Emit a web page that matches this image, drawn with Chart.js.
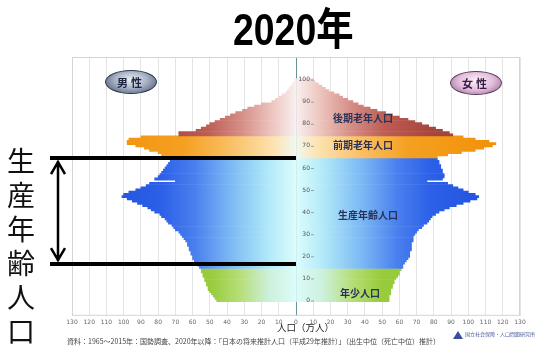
<!DOCTYPE html>
<html lang="ja">
<head>
<meta charset="UTF-8">
<meta name="viewport" content="width=device-width, initial-scale=1.0">
<title>人口ピラミッド 2020年</title>
<style>
  body { margin: 0; background: #fff; font-family: "Noto Sans CJK JP", sans-serif; }
  #stage { position: relative; width: 541px; height: 348px; overflow: hidden; }
  #pyramid { position: absolute; left: 0; top: 0; }
  .txt { position: absolute; white-space: nowrap; }
  #title { left: 233px; top: 8px; font: bold 44px/44px "Liberation Sans", "Noto Sans CJK JP", sans-serif; transform: scaleX(0.85); transform-origin: 0 0; color: #000; }
  #side-label { left: 6px; top: 143px; width: 30px; font-size: 28px; line-height: 34px; text-align: center; color: #111; white-space: normal; }
  .oval { position: absolute; width: 50px; height: 22px; border-radius: 50%; font-size: 11px; line-height: 22px; text-align: center; font-weight: bold; letter-spacing: 3px; }
  #male { left: 105px; top: 70px; background: radial-gradient(ellipse at 50% 40%, #eef0f6 0%, #a8b2c6 45%, #3c4860 100%); color: #1c2440; border: 1px solid #2c3448; }
  #female { left: 450px; top: 71px; background: radial-gradient(ellipse at 50% 40%, #fdf2fa 0%, #e2bcdc 50%, #8a5a88 100%); color: #3a1c40; border: 1px solid #5a3a5a; }
  .band { font-size: 10px; line-height: 14px; font-weight: bold; color: #2a3258; }
  #axis-name { left: 277px; top: 320px; font-size: 9.5px; line-height: 14px; color: #222; }
  #source { left: 67px; top: 336px; font-size: 7px; line-height: 10px; color: #444; }
  #logo { left: 453px; top: 329px; font-size: 5px; line-height: 10px; color: #4a5a9a; }
  #logo span { display: inline-block; width: 0; height: 0; border-left: 5px solid transparent; border-right: 5px solid transparent; border-bottom: 8px solid #3a4ea0; vertical-align: middle; margin-right: 2px; }
</style>
</head>
<body>
<div id="stage">
  <canvas id="pyramid" width="541" height="348"></canvas>
  <div class="txt" id="title">2020年</div>
  <div class="txt" id="side-label">生<br>産<br>年<br>齢<br>人<br>口</div>
  <div class="oval" id="male">男性</div>
  <div class="oval" id="female">女性</div>
  <div class="txt band" style="left:333px; top:111px;">後期老年人口</div>
  <div class="txt band" style="left:333px; top:138px;">前期老年人口</div>
  <div class="txt band" style="left:338px; top:208px;">生産年齢人口</div>
  <div class="txt band" style="left:340px; top:286px;">年少人口</div>
  <div class="txt" id="axis-name">人口（万人）</div>
  <div class="txt" id="source">資料：1965～2015年：国勢調査、2020年以降：「日本の将来推計人口（平成29年推計）」（出生中位（死亡中位）推計）</div>
  <div class="txt" id="logo"><span></span>国立社会保障・人口問題研究所</div>
</div>
<script src="https://cdn.jsdelivr.net/npm/chart.js@4.4.1/dist/chart.umd.min.js"></script>
<script>
    // 年齢（0〜100歳、100は100歳以上）
    const ages = Array.from({ length: 101 }, (_, i) => i);

    // 男性 人口（万人） 年齢0〜100
    const maleValues = [
        46, 47, 48, 49, 50, 51, 51, 52, 52, 53,
        53, 54, 54, 55, 55, 56, 57, 58, 59, 60,
        60, 61, 61, 62, 62, 63, 63, 64, 65, 66,
        67, 68, 70, 71, 72, 74, 75, 76, 78, 79,
        82, 84, 86, 89, 92, 95, 98, 101, 100, 97,
        93, 90, 87, 85, 70, 82, 80, 79, 78, 77,
        76, 75, 74, 73, 72, 77, 78, 80, 85, 88,
        93, 98, 98, 97, 90, 68, 68, 58, 55, 52,
        50, 47, 44, 41, 38, 35, 31, 28, 24, 20,
        14, 12, 10, 8, 6, 5, 4, 3, 2, 1,
        1
    ];

    // 女性 人口（万人） 年齢0〜100
    const femaleValues = [
        54, 54, 54, 55, 55, 55, 56, 56, 57, 57,
        58, 59, 60, 60, 61, 62, 62, 63, 64, 65,
        66, 66, 66, 67, 67, 67, 67, 68, 68, 68,
        69, 70, 71, 73, 74, 76, 77, 78, 79, 81,
        83, 86, 89, 93, 97, 101, 105, 106, 104, 100,
        97, 94, 91, 88, 76, 85, 86, 86, 85, 85,
        84, 84, 83, 83, 82, 82, 88, 96, 104, 109,
        114, 116, 112, 104, 97, 91, 89, 85, 81, 77,
        73, 69, 65, 60, 56, 52, 47, 43, 39, 36,
        33, 30, 27, 25, 22, 19, 17, 15, 13, 11,
        10
    ];

    // 年齢区分
    const groupNames = ["年少人口", "生産年齢人口", "前期老年人口", "後期老年人口"];
    const groupStartAge = [0, 15, 65, 75];

    // 軸
    const axisMax = 130;
    const popTickStep = 10;
    const ageTickStep = 10;
    const ageMin = -1.6;
    const ageMax = 104.9;

    // 生産年齢人口の矢印（年齢の位置）
    const bracketTopAge = 64.5;
    const bracketBottomAge = 16.5;

    // グラデーション（中心 → 外側）
    const groupColorStops = [
        [[0, "#dcfcfa"], [0.12, "#cdf0dc"], [0.25, "#b6de78"], [0.38, "#98cc3c"], [1, "#84c02a"]],
        [[0, "#dcfcfc"], [0.12, "#b2eaf8"], [0.3, "#7ab6f4"], [0.45, "#4a80ee"], [0.6, "#2c60e8"], [1, "#1c4ad8"]],
        [[0, "#f0f8f0"], [0.1, "#fde2b0"], [0.3, "#f9be62"], [0.5, "#f5a022"], [1, "#f08c00"]],
        [[0, "#f8f0f0"], [0.1, "#eec8c2"], [0.25, "#d48c84"], [0.4, "#bc5c52"], [0.6, "#a6463c"], [1, "#983a30"]]
    ];

    const gradientCache = {};
    function fillFor(ctx, side) {
        const chart = ctx.chart;
        const area = chart.chartArea;
        if (!area) return "#cccccc";
        const age = ages[ctx.dataIndex] || 0;
        let g = 0;
        for (let i = 0; i < groupStartAge.length; i++) {
            if (age >= groupStartAge[i]) g = i;
        }
        const key = side + g + "_" + area.left + "_" + area.right;
        if (!gradientCache[key]) {
            const xs = chart.scales.x;
            const x0 = xs.getPixelForValue(0);
            const x1 = xs.getPixelForValue(side === "male" ? -axisMax : axisMax);
            const grad = chart.ctx.createLinearGradient(x0, 0, x1, 0);
            groupColorStops[g].forEach(([p, c]) => grad.addColorStop(p, c));
            gradientCache[key] = grad;
        }
        return gradientCache[key];
    }

    // 枠線
    const framePlugin = {
        id: "frame",
        beforeDatasetsDraw(chart) {
            const { ctx, chartArea: a } = chart;
            ctx.save();
            ctx.strokeStyle = "#d4d4d4";
            ctx.lineWidth = 1;
            ctx.strokeRect(a.left + 0.5, a.top + 0.5, a.width - 1, a.height - 1);
            ctx.restore();
        }
    };

    // 中央の年齢目盛り（y軸の目盛りを中心線の右側に描く）
    const ageLabelPlugin = {
        id: "ageLabels",
        afterDatasetsDraw(chart) {
            const { ctx } = chart;
            const xs = chart.scales.x;
            const ys = chart.scales.y;
            const x0 = xs.getPixelForValue(0);
            ctx.save();
            ctx.font = "6px 'DejaVu Sans'";
            ctx.fillStyle = "#555";
            ctx.strokeStyle = "#8aa";
            ctx.textAlign = "right";
            ctx.textBaseline = "middle";
            ys.ticks.forEach(t => {
                if (t.value < 0 || t.value > 100) return;
                const y = ys.getPixelForValue(t.value);
                ctx.fillText(String(t.value), x0 + 14, y);
                ctx.beginPath();
                ctx.moveTo(x0 + 15, y + 0.5);
                ctx.lineTo(x0 + 18, y + 0.5);
                ctx.stroke();
            });
            ctx.restore();
        }
    };

    // 生産年齢人口の範囲（横線と矢印）
    const bracketPlugin = {
        id: "bracket",
        afterDraw(chart) {
            const { ctx } = chart;
            const xs = chart.scales.x;
            const ys = chart.scales.y;
            const yTop = ys.getPixelForValue(bracketTopAge);
            const yBot = ys.getPixelForValue(bracketBottomAge);
            const xRight = xs.getPixelForValue(0);
            const xLeft = 50;
            const xArrow = 58;
            ctx.save();
            ctx.strokeStyle = "#000";
            ctx.lineWidth = 4;
            ctx.beginPath();
            ctx.moveTo(xLeft, yTop); ctx.lineTo(xRight, yTop);
            ctx.moveTo(xLeft, yBot); ctx.lineTo(xRight, yBot);
            ctx.stroke();
            ctx.lineWidth = 2.5;
            ctx.beginPath();
            ctx.moveTo(xArrow, yTop + 3); ctx.lineTo(xArrow, yBot - 3);
            ctx.moveTo(xArrow - 7, yTop + 16); ctx.lineTo(xArrow, yTop + 4); ctx.lineTo(xArrow + 7, yTop + 16);
            ctx.moveTo(xArrow - 7, yBot - 16); ctx.lineTo(xArrow, yBot - 4); ctx.lineTo(xArrow + 7, yBot - 16);
            ctx.stroke();
            ctx.restore();
        }
    };

    const barStyle = {
        grouped: false,
        categoryPercentage: 1,
        barPercentage: 1,
        borderWidth: 0
    };

    const chart = new Chart(document.getElementById("pyramid"), {
        type: "bar",
        data: {
            labels: ages,
            datasets: [
                Object.assign({
                    label: "男性",
                    data: maleValues.map(v => -v),
                    backgroundColor: ctx => fillFor(ctx, "male")
                }, barStyle),
                Object.assign({
                    label: "女性",
                    data: femaleValues,
                    backgroundColor: ctx => fillFor(ctx, "female")
                }, barStyle)
            ]
        },
        options: {
            indexAxis: "y",
            responsive: false,
            animation: false,
            devicePixelRatio: 1,
            layout: { padding: { left: 72, right: 21, top: 57, bottom: 19 } },
            plugins: {
                legend: { display: false },
                title: { display: false },
                tooltip: { enabled: false }
            },
            scales: {
                x: {
                    type: "linear",
                    min: -axisMax,
                    max: axisMax,
                    grid: { color: "#e4e4e4", drawTicks: false },
                    border: { display: false },
                    ticks: {
                        stepSize: popTickStep,
                        padding: 3,
                        color: "#666",
                        font: { size: 6, family: "DejaVu Sans" },
                        maxRotation: 0,
                        autoSkip: false,
                        callback: v => Math.abs(v)
                    }
                },
                y: {
                    type: "linear",
                    position: { x: 0 },
                    z: 1,
                    min: ageMin,
                    max: ageMax,
                    grid: { display: false },
                    border: { display: true, color: "#6a9494", width: 1 },
                    ticks: {
                        display: false,
                        stepSize: ageTickStep,
                        includeBounds: false
                    }
                }
            }
        },
        plugins: [framePlugin, ageLabelPlugin, bracketPlugin]
    });
</script>
</body>
</html>
